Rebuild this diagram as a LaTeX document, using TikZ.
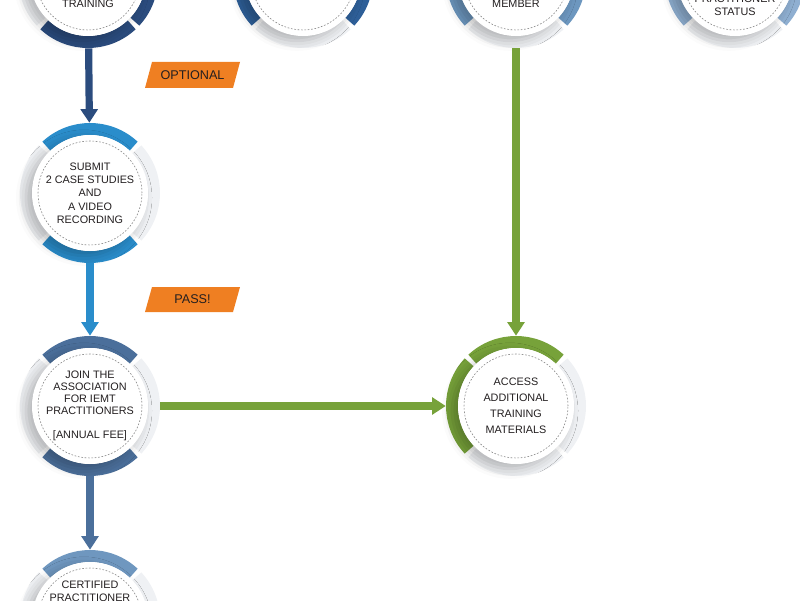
\documentclass[tikz,border=0pt]{standalone}
\usepackage{fontspec}
\setmainfont{Liberation Sans}
\usepackage{tikz}
\usetikzlibrary{positioning, arrows.meta, calc, shadows.blur}

\definecolor{TrainBlue}{HTML}{2B4C7E}
\definecolor{MidBlue}{HTML}{2E5F98}
\definecolor{MemberBlue}{HTML}{6D97BF}
\definecolor{StatusBlue}{HTML}{8FAFD1}
\definecolor{SubmitBlue}{HTML}{2A8DCB}
\definecolor{JoinBlue}{HTML}{4B6F9B}
\definecolor{CertBlue}{HTML}{6F97BF}
\definecolor{AccessGreen}{HTML}{77A23A}
\definecolor{TagOrange}{HTML}{EF7F22}
\definecolor{RingGrey}{HTML}{EFF1F4}
\definecolor{TextGrey}{HTML}{231F20}

\tikzset{
    stage/.style={circle, minimum size=3.5cm, inner sep=0pt, align=center,
        text=TextGrey, font=\fontsize{7.7}{9.5}\selectfont},
    ringseg/.style={line width=0.3cm},
    dashring/.style={gray, line width=0.4pt, dash pattern=on 1.2pt off 1.2pt},
    flow/.style={line width=0.18cm, -{Triangle[width=0.42cm, length=0.34cm]}},
    tagtext/.style={text=TextGrey, font=\fontsize{9}{10}\selectfont}
}

% ring round a stage: centre, colours of right/top/left/bottom segment
\newcommand{\stagering}[5]{%
    \foreach \a/\c in {0/#2, 90/#3, 180/#4, 270/#5}
    {
        \draw[ringseg, \c] ($(#1)+({\a-43}:64)$) arc[start angle=\a-43, end angle=\a+43, radius=64];
    }
    \fill[white, blur shadow={shadow xshift=-0.15cm, shadow yshift=-0.12cm,
        shadow blur radius=0.25cm, shadow opacity=25}] (#1) circle (58);
    \draw[dashring] (#1) circle (52);
}

\begin{document}
\begin{tikzpicture}[x=0.025cm, y=0.025cm]
    \useasboundingbox (0,0) rectangle (800,600);

    \coordinate (c-train) at (88,622);
    \coordinate (c-blank) at (303,622);
    \coordinate (c-member) at (516,622);
    \coordinate (c-status) at (735,622);
    \coordinate (c-submit) at (90,407);
    \coordinate (c-join) at (90,194);
    \coordinate (c-access) at (516,194);
    \coordinate (c-cert) at (90,-20);

    % rings
    \stagering{c-train}{TrainBlue}{RingGrey}{RingGrey}{TrainBlue}
    \stagering{c-blank}{MidBlue}{RingGrey}{MidBlue}{RingGrey}
    \stagering{c-member}{MemberBlue}{RingGrey}{MemberBlue}{RingGrey}
    \stagering{c-status}{StatusBlue}{RingGrey}{StatusBlue}{RingGrey}
    \stagering{c-submit}{RingGrey}{SubmitBlue}{RingGrey}{SubmitBlue}
    \stagering{c-join}{RingGrey}{JoinBlue}{RingGrey}{JoinBlue}
    \stagering{c-access}{RingGrey}{AccessGreen}{AccessGreen}{RingGrey}
    \stagering{c-cert}{RingGrey}{CertBlue}{RingGrey}{RingGrey}

    % stages
    \node[stage] (train) at (c-train) {};
    \node[stage] (blank) at (c-blank) {};
    \node[stage] (member) at (c-member) {};
    \node[stage] (status) at (c-status) {};
    \node[stage] (submit) at (c-submit) {SUBMIT\\2 CASE STUDIES\\AND\\A VIDEO\\RECORDING};
    \node[stage, font=\fontsize{7.7}{8.6}\selectfont] (join) at (c-join)
        {JOIN THE\\ASSOCIATION\\FOR IEMT\\PRACTITIONERS\\[8.6pt]{[ANNUAL FEE]}};
    \node[stage, font=\fontsize{7.7}{11.4}\selectfont] (access) at (c-access)
        {ACCESS\\ADDITIONAL\\TRAINING\\MATERIALS};
    \node[stage] (cert) at (c-cert) {};

    % texts cut by the frame
    \node[stage, minimum size=0pt] (train-text) at (88,596) {TRAINING};
    \node[stage, minimum size=0pt] (member-text) at (516,596) {MEMBER};
    \node[stage, minimum size=0pt] (status-text) at (735,595) {PRACTITIONER\\STATUS};
    \node[stage, minimum size=0pt] (cert-text) at (90,9) {CERTIFIED\\PRACTITIONER};

    % connectors
    \draw[flow, TrainBlue] (train) -- (submit);
    \draw[flow, SubmitBlue] (submit) -- (join);
    \draw[flow, JoinBlue] (join) -- (cert);
    \draw[flow, AccessGreen] (member) -- (access);
    \draw[flow, AccessGreen] (join) -- (access);

    % tags
    \fill[TagOrange] (152,538) -- (240,538) -- (233,512) -- (145,512) -- cycle;
    \node[tagtext] (optional) at (192.5,525) {OPTIONAL};
    \fill[TagOrange] (152,313) -- (240,313) -- (233,288) -- (145,288) -- cycle;
    \node[tagtext] (pass) at (192.5,300.5) {PASS!};
\end{tikzpicture}
\end{document}
